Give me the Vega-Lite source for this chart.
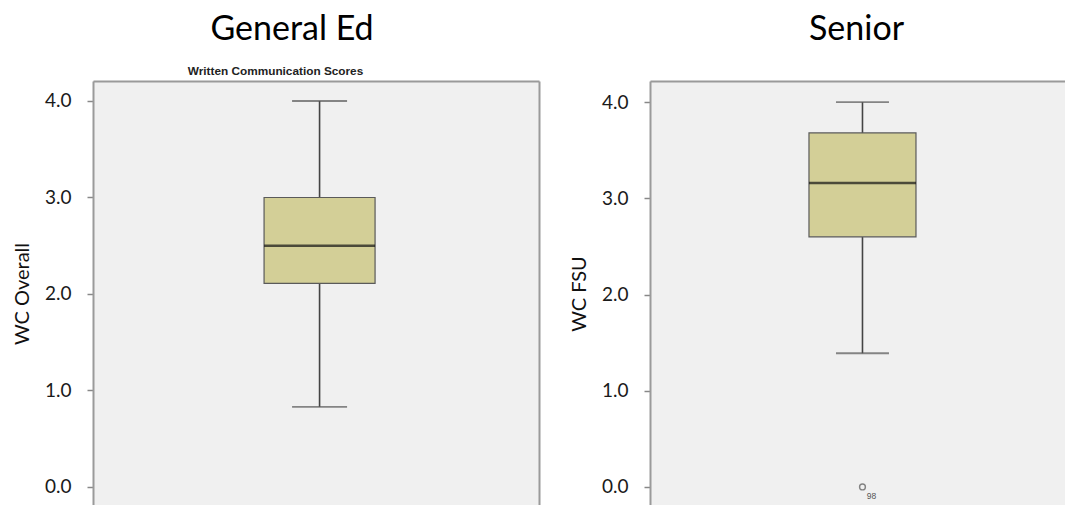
{
  "$schema": "https://vega.github.io/schema/vega-lite/v6.json",
  "padding": {"left": 12, "top": 13, "right": 0, "bottom": 0},
  "background": "white",
  "datasets": {
    "boxes": [
      {"panel": "General Ed", "lower": 0.83, "q1": 2.11, "median": 2.5, "q3": 3.0, "upper": 4.0},
      {"panel": "Senior", "lower": 1.39, "q1": 2.6, "median": 3.16, "q3": 3.68, "upper": 4.0}
    ],
    "outliers": [
      {"panel": "Senior", "value": 0.0, "case": "98"}
    ]
  },
  "config": {
    "view": {"fill": "#f0f0f0", "stroke": null},
    "axis": {
      "grid": false,
      "domainColor": "#9a9a9a",
      "domainWidth": 2,
      "tickColor": "#888888",
      "tickSize": 6,
      "tickWidth": 1.5,
      "labelFont": "Lato",
      "labelFontSize": 19,
      "labelColor": "#1a1a1a",
      "labelPadding": 16,
      "titleFont": "Lato",
      "titleFontSize": 20,
      "titleFontWeight": "normal",
      "titleColor": "#111111",
      "titlePadding": 12
    }
  },
  "hconcat": [
    {
      "width": 446,
      "height": 425,
      "title": {"text": "General Ed", "font": "Lato", "fontSize": 34, "fontWeight": "normal", "color": "#000000", "anchor": "middle", "dx": -24, "baseline": "alphabetic", "offset": -9},
      "data": {"name": "boxes"},
      "transform": [{"filter": "datum.panel === 'General Ed'"}],
      "encoding": {
        "x": {"field": "panel", "type": "nominal", "scale": {"paddingOuter": 1, "paddingInner": 0, "align": 0.512},
              "axis": {"orient": "top", "labels": false, "ticks": false, "domain": true, "title": "Written Communication Scores", "titleFont": "Liberation Sans", "titleFontSize": 11.8, "titleFontWeight": "bold", "titleColor": "#222222", "titleX": 182, "titlePadding": 7, "titleBaseline": "alphabetic"}}
      },
      "layer": [
        {
          "mark": {"type": "rule", "color": "#444444", "strokeWidth": 1.6},
          "encoding": {
            "y": {"field": "lower", "type": "quantitative", "scale": {"domain": [-0.197, 4.207], "nice": false, "zero": false},
                  "axis": {"values": [0, 1, 2, 3, 4], "format": ".1f", "title": "WC Overall"}},
            "y2": {"field": "q1"}
          }
        },
        {
          "mark": {"type": "rule", "color": "#444444", "strokeWidth": 1.6},
          "encoding": {
            "y": {"field": "q3", "type": "quantitative", "axis": {"orient": "right", "labels": false, "ticks": false, "title": null, "domain": true}},
            "y2": {"field": "upper"}
          }
        },
        {
          "mark": {"type": "tick", "orient": "horizontal", "color": "#555555", "size": 55, "thickness": 1.8},
          "encoding": {
            "y": {"field": "lower", "type": "quantitative", "axis": null}
          }
        },
        {
          "mark": {"type": "tick", "orient": "horizontal", "color": "#555555", "size": 55, "thickness": 1.8},
          "encoding": {
            "y": {"field": "upper", "type": "quantitative", "axis": null}
          }
        },
        {
          "mark": {"type": "bar", "size": 111, "fill": "#d3cf97", "stroke": "#5a5a5a", "strokeWidth": 1.2},
          "encoding": {
            "y": {"field": "q1", "type": "quantitative", "axis": null},
            "y2": {"field": "q3"}
          }
        },
        {
          "mark": {"type": "tick", "orient": "horizontal", "color": "#111111", "size": 111, "thickness": 2.6},
          "encoding": {
            "y": {"field": "median", "type": "quantitative", "axis": null}
          }
        }
      ],
      "resolve": {"axis": {"y": "independent"}}
    },
    {
      "width": 415,
      "height": 425,
      "title": {"text": "Senior", "font": "Lato", "fontSize": 34, "fontWeight": "normal", "color": "#000000", "anchor": "middle", "dx": -1, "baseline": "alphabetic", "offset": 7},
      "encoding": {
        "x": {"field": "panel", "type": "nominal", "scale": {"paddingOuter": 1, "paddingInner": 0, "align": 0.518},
              "axis": {"orient": "top", "labels": false, "ticks": false, "domain": true, "title": null}}
      },
      "layer": [
        {
          "data": {"name": "boxes"},
          "transform": [{"filter": "datum.panel === 'Senior'"}],
          "layer": [
            {
              "mark": {"type": "rule", "color": "#444444", "strokeWidth": 1.6},
              "encoding": {
                "y": {"field": "lower", "type": "quantitative", "scale": {"domain": [-0.198, 4.22], "nice": false, "zero": false},
                      "axis": {"values": [0, 1, 2, 3, 4], "format": ".1f", "title": "WC FSU"}},
                "y2": {"field": "q1"}
              }
            },
            {
              "mark": {"type": "rule", "color": "#444444", "strokeWidth": 1.6},
              "encoding": {
                "y": {"field": "q3", "type": "quantitative"},
                "y2": {"field": "upper"}
              }
            },
            {
              "mark": {"type": "tick", "orient": "horizontal", "color": "#555555", "size": 53, "thickness": 1.8},
              "encoding": {
                "y": {"field": "lower", "type": "quantitative"}
              }
            },
            {
              "mark": {"type": "tick", "orient": "horizontal", "color": "#555555", "size": 53, "thickness": 1.8},
              "encoding": {
                "y": {"field": "upper", "type": "quantitative"}
              }
            },
            {
              "mark": {"type": "bar", "size": 107, "fill": "#d3cf97", "stroke": "#5a5a5a", "strokeWidth": 1.2},
              "encoding": {
                "y": {"field": "q1", "type": "quantitative"},
                "y2": {"field": "q3"}
              }
            },
            {
              "mark": {"type": "tick", "orient": "horizontal", "color": "#111111", "size": 107, "thickness": 2.6},
              "encoding": {
                "y": {"field": "median", "type": "quantitative"}
              }
            }
          ]
        },
        {
          "data": {"name": "outliers"},
          "layer": [
            {
              "mark": {"type": "point", "shape": "circle", "filled": false, "size": 34, "stroke": "#555555", "strokeWidth": 1.4},
              "encoding": {
                "y": {"field": "value", "type": "quantitative"}
              }
            },
            {
              "mark": {"type": "text", "font": "Liberation Sans", "fontSize": 8.5, "color": "#555555", "dx": 9, "dy": 9},
              "encoding": {
                "y": {"field": "value", "type": "quantitative"},
                "text": {"field": "case", "type": "nominal"}
              }
            }
          ]
        }
      ]
    }
  ],
  "spacing": 111,
  "bounds": "flush"
}
